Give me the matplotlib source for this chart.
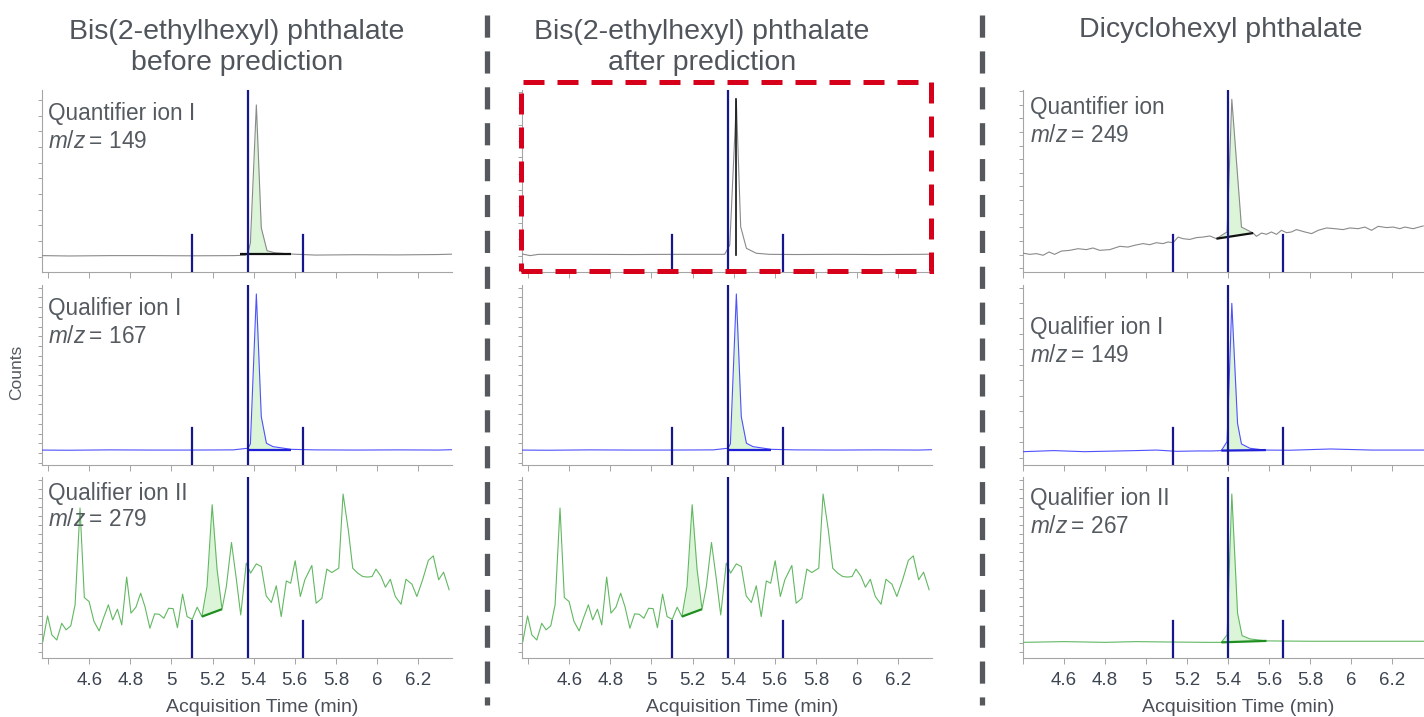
import numpy as np
import matplotlib.pyplot as plt
from matplotlib.lines import Line2D
from matplotlib.patches import Rectangle

plt.rcParams['font.family'] = ['Liberation Sans', 'DejaVu Sans']
plt.rcParams['mathtext.fontset'] = 'custom'
plt.rcParams['mathtext.it'] = 'Liberation Sans:italic'
plt.rcParams['mathtext.rm'] = 'Liberation Sans'

# ---- datos de los cromatogramas (tiempo en min, cuentas en % de escala) ----

# DEHP m/z 149, antes de la prediccion
t_dehp_149 = [4.37, 4.5, 4.7, 4.9, 5.1, 5.3, 5.36, 5.372, 5.384, 5.413, 5.437, 5.465,
              5.502, 5.575, 5.7, 5.9, 6.1, 6.3, 6.365]
c_dehp_149 = [9.0, 8.8, 9.0, 9.0, 8.9, 9.0, 9.2, 10.4, 15.9, 91.8, 24.2, 11.7,
              10.6, 9.9, 9.3, 9.5, 9.4, 9.6, 9.8]

# DEHP m/z 149, despues de la prediccion
t_dehp_149b = [4.37, 4.41, 4.45, 4.7, 4.9, 5.1, 5.3, 5.356, 5.381, 5.413, 5.434, 5.462,
               5.510, 5.575, 5.7, 5.9, 6.1, 6.3, 6.365]
c_dehp_149b = [9.9, 9.0, 9.7, 9.7, 9.6, 9.7, 9.7, 9.7, 14.8, 94.0, 24.9, 13.0,
               10.3, 9.7, 9.6, 9.7, 9.6, 9.7, 9.8]
pred_rt = 5.413
pred_top = 95.0

# DEHP m/z 167
t_dehp_167 = [4.37, 4.5, 4.7, 4.9, 5.1, 5.3, 5.372, 5.384, 5.413, 5.437, 5.462, 5.494,
              5.583, 5.7, 5.9, 6.1, 6.3, 6.365]
c_dehp_167 = [8.3, 8.2, 8.4, 8.3, 8.3, 8.4, 9.3, 11.7, 95.0, 26.8, 12.1, 10.2,
              8.7, 8.4, 8.3, 8.4, 8.3, 8.5]

# DEHP m/z 279
t_dehp_279 = [4.374, 4.397, 4.418, 4.442, 4.466, 4.487, 4.510, 4.531, 4.555, 4.576,
              4.599, 4.623, 4.648, 4.669, 4.693, 4.714, 4.737, 4.758, 4.782, 4.803,
              4.827, 4.850, 4.871, 4.895, 4.918, 4.940, 4.963, 4.986, 5.008, 5.029,
              5.054, 5.076, 5.101, 5.125, 5.148, 5.173, 5.198, 5.222, 5.246, 5.267,
              5.292, 5.316, 5.337, 5.364, 5.385, 5.413, 5.437, 5.461, 5.486, 5.510,
              5.534, 5.559, 5.580, 5.602, 5.627, 5.649, 5.683, 5.704, 5.732, 5.756,
              5.780, 5.814, 5.835, 5.861, 5.882, 5.906, 5.931, 5.955, 5.976, 5.995,
              6.020, 6.041, 6.065, 6.089, 6.117, 6.141, 6.170, 6.194, 6.222, 6.250,
              6.274, 6.300, 6.324, 6.351]
c_dehp_279 = [9.2, 23.4, 12.9, 10.1, 19.3, 15.7, 17.9, 29.5, 82.9, 33.5,
              31.3, 20.3, 15.1, 22.1, 29.5, 21.2, 27.1, 18.4, 44.8, 24.9,
              28.2, 35.9, 28.5, 16.6, 24.5, 24.3, 22.1, 27.6, 27.4, 16.9,
              35.4, 23.0, 21.5, 28.2, 23.0, 39.6, 84.7, 48.8, 27.1, 39.6,
              63.9, 43.3, 23.9, 52.5, 47.0, 52.1, 50.6, 34.4, 30.8, 40.0,
              23.0, 42.7, 41.4, 53.8, 34.1, 43.3, 51.2, 30.4, 33.1, 49.2,
              47.3, 49.7, 90.6, 70.3, 49.7, 47.0, 45.1, 44.8, 45.1, 49.2,
              45.1, 39.2, 43.6, 34.1, 29.8, 43.6, 40.9, 34.1, 43.3, 54.0,
              56.5, 43.3, 47.5, 37.8]

# DCHP m/z 249
t_dchp_249 = [4.397, 4.433, 4.465, 4.498, 4.527, 4.554, 4.587, 4.628, 4.668, 4.709,
              4.741, 4.774, 4.823, 4.872, 4.912, 4.945, 4.985, 5.018, 5.050, 5.083,
              5.107, 5.132, 5.156, 5.180, 5.213, 5.246, 5.278, 5.311, 5.343, 5.376,
              5.395, 5.418, 5.465, 5.522, 5.538, 5.563, 5.587, 5.611, 5.636, 5.660,
              5.685, 5.709, 5.733, 5.774, 5.807, 5.839, 5.880, 5.920, 5.961, 5.993,
              6.034, 6.067, 6.099, 6.132, 6.172, 6.205, 6.237, 6.262, 6.302, 6.351]
c_dchp_249 = [10.4, 9.7, 10.1, 9.2, 11.0, 9.7, 11.5, 11.9, 12.8, 12.3,
              13.2, 11.9, 12.3, 14.1, 13.7, 14.7, 15.6, 15.0, 16.1, 15.6,
              16.5, 16.1, 19.2, 18.3, 17.9, 18.9, 19.2, 19.8, 18.3, 20.7,
              22.0, 94.9, 24.7, 21.4, 19.6, 21.4, 20.7, 22.0, 20.7, 22.9,
              21.6, 22.0, 23.3, 22.0, 21.1, 22.9, 24.2, 23.8, 23.3, 24.2,
              23.8, 24.7, 22.9, 25.1, 24.4, 24.7, 23.8, 24.7, 23.8, 25.3]

# DCHP m/z 149
t_dchp_149 = [4.4, 4.55, 4.7, 4.95, 5.05, 5.15, 5.25, 5.32, 5.367, 5.395, 5.418, 5.446,
              5.465, 5.506, 5.579, 5.7, 5.9, 6.1, 6.355]
c_dchp_149 = [7.4, 8.0, 7.4, 8.0, 8.3, 7.6, 7.8, 7.8, 8.0, 13.0, 89.8, 23.1,
              11.7, 9.3, 8.3, 8.2, 8.9, 8.3, 8.3]

# DCHP m/z 267
t_dchp_267 = [4.4, 4.6, 4.8, 4.95, 5.1, 5.3, 5.367, 5.395, 5.418, 5.446, 5.468, 5.506,
              5.587, 5.8, 6.0, 6.355]
c_dchp_267 = [8.8, 9.2, 8.8, 9.2, 9.0, 8.8, 8.8, 12.9, 90.6, 24.9, 12.5, 10.7,
              9.6, 9.4, 9.4, 9.4]

# limites de integracion y tiempos de retencion
rt_dehp = [5.102, 5.372, 5.64]
rt_dchp = [5.13, 5.40, 5.668]

# lineas base de integracion: (t0, c0, t1, c1)
base_dehp_149 = (5.332, 9.7, 5.583, 9.7)
base_dehp_167 = (5.372, 8.6, 5.583, 8.6)
base_dehp_279 = (5.148, 23.0, 5.246, 27.1)
base_dchp_249 = (5.343, 18.3, 5.522, 21.4)
base_dchp_149 = (5.367, 8.0, 5.584, 8.3)
base_dchp_267 = (5.367, 8.8, 5.587, 9.6)

xticks = [4.4, 4.6, 4.8, 5.0, 5.2, 5.4, 5.6, 5.8, 6.0, 6.2]
xtick_labels = ['', '4.6', '4.8', '5', '5.2', '5.4', '5.6', '5.8', '6', '6.2']

# ---- estilo ----
W, H = 1424, 717
GRIS_TRAZO = '#8a8a8a'
AZUL_TRAZO = '#5050ff'
VERDE_TRAZO = '#62b862'
RELLENO = '#dcf5d8'
AZUL_OSC = '#16168f'
TXT = '#555a60'

fig = plt.figure(figsize=(W / 100, H / 100), dpi=100)


def ejes(x0, x1, y0, y1):
    # ejes ubicados en pixeles de la figura
    return fig.add_axes([x0 / W, 1 - y1 / H, (x1 - x0) / W, (y1 - y0) / H])


def panel(ax, t, c, color, rts, base, relleno, xlim, paso_y, y0_tick,
          linea_base_color, etiqueta=None, pos_txt=None, con_etiquetas=False):
    ax.plot(t, c, color=color, lw=0.8, zorder=3)
    if relleno is not None:
        tt = np.linspace(relleno[0], relleno[1], 300)
        yy = np.interp(tt, t, c)
        bb = np.interp(tt, [base[0], base[2]], [base[1], base[3]])
        ax.fill_between(tt, bb, yy, where=yy >= bb, color=RELLENO, lw=0, zorder=2)
    if base is not None:
        ax.plot([base[0], base[2]], [base[1], base[3]], color=linea_base_color,
                lw=1.6, zorder=4, solid_capstyle='butt')
    ax.axvline(rts[1], color=AZUL_OSC, lw=1.6, zorder=5)
    for r in (rts[0], rts[2]):
        ax.axvline(r, ymin=0, ymax=0.205, color=AZUL_OSC, lw=1.6, zorder=5)

    ax.set_xlim(*xlim)
    ax.set_ylim(0, 100)
    for s in ('top', 'right'):
        ax.spines[s].set_visible(False)
    for s in ('left', 'bottom'):
        ax.spines[s].set_color('#a5a5a5')
        ax.spines[s].set_linewidth(0.8)
    ax.set_yticks(np.arange(y0_tick, 100, paso_y))
    ax.set_yticklabels([])
    ax.tick_params(axis='y', length=3, width=0.7, color='#a5a5a5')
    ax.set_xticks(xticks)
    if con_etiquetas:
        ax.set_xticklabels(xtick_labels)
    else:
        ax.set_xticklabels([])
    ax.tick_params(axis='x', length=4, width=0.7, color='#a5a5a5',
                   labelsize=13.5, labelcolor='#3e4552', pad=6)
    if etiqueta is not None:
        ax.text(pos_txt[0], pos_txt[1], etiqueta[0], transform=ax.transAxes,
                fontsize=16.3, color=TXT, va='baseline', ha='left')
        ax.text(pos_txt[0], pos_txt[2], etiqueta[1], transform=ax.transAxes,
                fontsize=16.3, color=TXT, va='baseline', ha='left')


filas = [(90, 272), (285, 465), (477, 658.3)]
xlim_dehp = (4.37, 6.365)
xlim_dchp = (4.4, 6.355)

# columna 1: DEHP antes de la prediccion
a = ejes(42, 452, *filas[0])
panel(a, t_dehp_149, c_dehp_149, GRIS_TRAZO, rt_dehp, base_dehp_149, (5.372, 5.575),
      xlim_dehp, 8.6, 8.4, '#111111', ('Quantifier ion I', '$m/z$\u2009= 149'),
      (0.015, 0.835, 0.68))
a = ejes(42, 452, *filas[1])
panel(a, t_dehp_167, c_dehp_167, AZUL_TRAZO, rt_dehp, base_dehp_167, (5.372, 5.583),
      xlim_dehp, 5.4, 1.3, '#2020d8', ('Qualifier ion I', '$m/z$\u2009= 167'),
      (0.015, 0.833, 0.678))
a = ejes(42, 452, *filas[2])
panel(a, t_dehp_279, c_dehp_279, VERDE_TRAZO, rt_dehp, base_dehp_279, (5.148, 5.246),
      xlim_dehp, 5.0, 3.6, '#1f8f1f', ('Qualifier ion II', '$m/z$\u2009= 279'),
      (0.015, 0.875, 0.727), con_etiquetas=True)

# columna 2: DEHP despues de la prediccion
a = ejes(522, 932, *filas[0])
panel(a, t_dehp_149b, c_dehp_149b, GRIS_TRAZO, rt_dehp, None, None,
      xlim_dehp, 9.0, 9.0, '#111111')
a.plot([pred_rt, pred_rt], [9.4, pred_top], color='#111111', lw=1.2, zorder=4)
a = ejes(522, 932, *filas[1])
panel(a, t_dehp_167, c_dehp_167, AZUL_TRAZO, rt_dehp, base_dehp_167, (5.372, 5.583),
      xlim_dehp, 5.4, 1.3, '#2020d8')
a = ejes(522, 932, *filas[2])
panel(a, t_dehp_279, c_dehp_279, VERDE_TRAZO, rt_dehp, base_dehp_279, (5.148, 5.246),
      xlim_dehp, 5.0, 3.6, '#1f8f1f', con_etiquetas=True)

# columna 3: DCHP
a = ejes(1023, 1424, *filas[0])
panel(a, t_dchp_249, c_dchp_249, GRIS_TRAZO, rt_dchp, base_dchp_249, (5.343, 5.522),
      xlim_dchp, 7.5, 2.0, '#111111', ('Quantifier ion', '$m/z$\u2009= 249'),
      (0.018, 0.87, 0.714))
a = ejes(1023, 1424, *filas[1])
panel(a, t_dchp_149, c_dchp_149, AZUL_TRAZO, rt_dchp, base_dchp_149, (5.367, 5.584),
      xlim_dchp, 8.6, 4.0, '#2020d8', ('Qualifier ion I', '$m/z$\u2009= 149'),
      (0.018, 0.728, 0.574))
a = ejes(1023, 1424, *filas[2])
panel(a, t_dchp_267, c_dchp_267, VERDE_TRAZO, rt_dchp, base_dchp_267, (5.367, 5.587),
      xlim_dchp, 5.0, 3.6, '#1f8f1f', ('Qualifier ion II', '$m/z$\u2009= 267'),
      (0.018, 0.847, 0.69), con_etiquetas=True)

# titulos
titulo = dict(fontsize=20.5, color='#50555c', ha='center', va='center')
fig.text(237 / W, 1 - 32 / H, 'Bis(2-ethylhexyl) phthalate', **titulo)
fig.text(237 / W, 1 - 63 / H, 'before prediction', **titulo)
fig.text(702 / W, 1 - 32 / H, 'Bis(2-ethylhexyl) phthalate', **titulo)
fig.text(702 / W, 1 - 63 / H, 'after prediction', **titulo)
fig.text(1221 / W, 1 - 30 / H, 'Dicyclohexyl phthalate', **titulo)

for xc in (262, 742, 1238):
    fig.text(xc / W, 1 - 708 / H, 'Acquisition Time (min)', fontsize=14,
             color='#4a4f58', ha='center', va='center')
fig.text(17 / W, 1 - 372 / H, 'Counts', fontsize=12.5, color='#555a60',
         rotation=90, ha='center', va='center')

# separadores
for xs in (487, 982):
    fig.add_artist(Line2D([xs / W, xs / W], [1 - 15 / H, 1 - 705 / H],
                          transform=fig.transFigure, color='#55595e', lw=3.8,
                          dashes=(4.2, 2.6)))

# recuadro rojo
fig.add_artist(Rectangle((521 / W, 1 - 271 / H), (931 - 521) / W, (271 - 81.7) / H,
                         transform=fig.transFigure, fill=False, ec='#d7001b',
                         lw=3.6, linestyle=(0, (4.2, 2.6)), zorder=10))

fig.savefig('out.png', dpi=100)
